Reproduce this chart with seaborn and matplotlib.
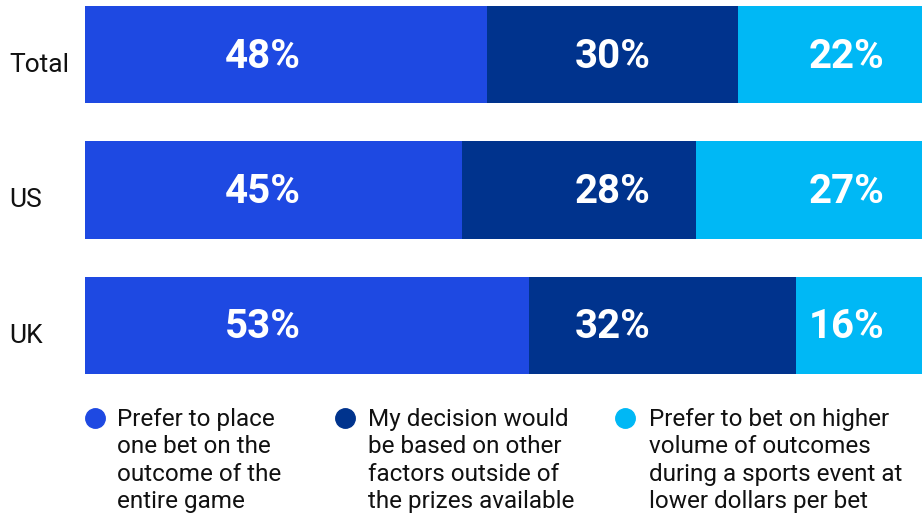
import pandas as pd
import seaborn as sns
import matplotlib.pyplot as plt
import matplotlib.transforms as mtransforms
from matplotlib.lines import Line2D

# Chart data
regions = ["Total", "US", "UK"]
one_bet = [48, 45, 53]
other_factors = [30, 28, 32]
many_bets = [22, 27, 16]
legend_labels = [
    "Prefer to place\none bet on the\noutcome of the\nentire game",
    "My decision would\nbe based on other\nfactors outside of\nthe prizes available",
    "Prefer to bet on higher\nvolume of outcomes\nduring a sports event at\nlower dollars per bet",
]
colors = ["#1E49E2", "#00338D", "#00B8F5"]

# label columns sit at fixed x positions in the original
label_x = [21.3, 63.0, 91.0]

sns.set_theme(style="white")
plt.rcParams['font.family'] = ['Roboto', 'DejaVu Sans']

df = pd.DataFrame({
    "region": regions,
    "one_bet": one_bet,
    "other_factors": other_factors,
    "many_bets": many_bets,
})
df["c1"] = df["one_bet"]
df["c2"] = df["one_bet"] + df["other_factors"]
df["c3"] = df["c2"] + df["many_bets"]

fig = plt.figure(figsize=(9.22, 5.16), dpi=100)
ax = fig.add_axes([85 / 922, 1 - 374 / 516, 837 / 922, 368 / 516])

# stacked bars: draw cumulative totals back to front
for col, color in zip(["c3", "c2", "c1"], colors[::-1]):
    sns.barplot(data=df, x=col, y="region", color=color, saturation=1,
                width=0.72, linewidth=0, orient="h", ax=ax)

ax.set_xlim(0, 100)
ax.set_ylim(2.36, -0.36)
ax.set_xticks([])
ax.set_xlabel("")
ax.set_ylabel("")
sns.despine(ax=ax, left=True, bottom=True)
ax.tick_params(axis="y", length=0, pad=54.5, labelsize=19, labelcolor="#111111")
shift = mtransforms.ScaledTranslation(0, -0.08, fig.dpi_scale_trans)
for lbl in ax.get_yticklabels():
    lbl.set_ha("left")
    lbl.set_transform(lbl.get_transform() + shift)

num_shift = mtransforms.ScaledTranslation(0, -0.02, fig.dpi_scale_trans)
for i, row in df.iterrows():
    for j, col in enumerate(["one_bet", "other_factors", "many_bets"]):
        ax.text(label_x[j], i, f"{row[col]}%", ha="center", va="center",
                color="white", fontsize=29, fontweight="bold",
                transform=ax.transData + num_shift)

# legend with dots aligned to the first line
dot_x = [95, 345, 625]
text_x = [117, 368, 649]
for j, (lab, color) in enumerate(zip(legend_labels, colors)):
    fig.add_artist(Line2D([dot_x[j] / 922], [1 - 418 / 516], marker="o",
                          markersize=14, color=color, linestyle="none",
                          transform=fig.transFigure))
    fig.text(text_x[j] / 922, 1 - 408 / 516, lab, ha="left", va="top",
             fontsize=17.5, linespacing=1.24, color="#111111")

plt.savefig("out.png", dpi=100)
